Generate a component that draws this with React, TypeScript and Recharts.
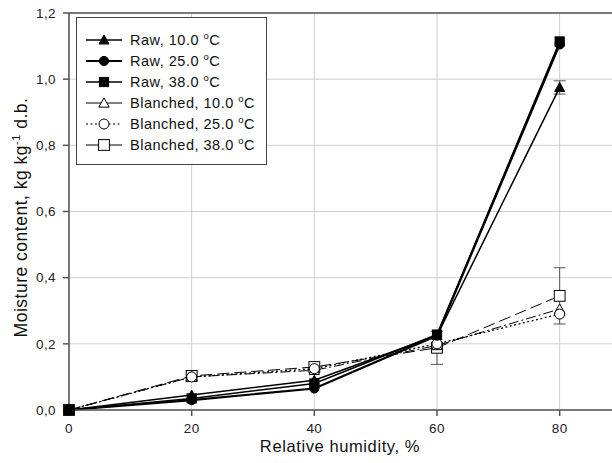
import React from 'react';
import { LineChart, Line, XAxis, YAxis, CartesianGrid, ErrorBar, Legend, Label, ReferenceLine } from 'recharts';

const humidity = [0, 20, 40, 60, 80];
const raw10 = [0, 0.045, 0.09, 0.225, 0.975];
const raw25 = [0, 0.03, 0.065, 0.225, 1.105];
const raw38 = [0, 0.035, 0.08, 0.228, 1.114];
const bl10 = [0, 0.1, 0.12, 0.195, 0.305];
const bl25 = [0, 0.1, 0.125, 0.2, 0.29];
const bl38 = [0, 0.103, 0.13, 0.188, 0.345];
const raw10Err = [null, null, null, null, 0.02];
const bl38Err = [null, 0.015, null, 0.05, 0.085];
const xTicks = [0, 20, 40, 60, 80];
const yTicks = [0, 0.2, 0.4, 0.6, 0.8, 1.0, 1.2];

const data = humidity.map((h, i) => ({
  h,
  raw10: raw10[i],
  raw25: raw25[i],
  raw38: raw38[i],
  bl10: bl10[i],
  bl25: bl25[i],
  bl38: bl38[i],
  raw10Err: raw10Err[i],
  bl38Err: bl38Err[i],
}));

const FONT = '"Liberation Sans", Arial, sans-serif';

type Shape = 'triangle' | 'circle' | 'square';

function marker(shape: Shape, filled: boolean, cx: number, cy: number, key?: any) {
  const fill = filled ? '#000' : '#fff';
  const stroke = '#000';
  if (shape === 'triangle') {
    const s = filled ? 5 : 5.2;
    return (
      <polygon key={key} points={`${cx},${cy - s} ${cx - s},${cy + s * 0.8} ${cx + s},${cy + s * 0.8}`}
        fill={fill} stroke={stroke} strokeWidth={1} />
    );
  }
  if (shape === 'circle') {
    return <circle key={key} cx={cx} cy={cy} r={filled ? 4.6 : 5} fill={fill} stroke={stroke} strokeWidth={1} />;
  }
  const s = filled ? 4.6 : 5.4;
  return <rect key={key} x={cx - s} y={cy - s} width={s * 2} height={s * 2} fill={fill} stroke={stroke} strokeWidth={1} />;
}

const makeDot = (shape: Shape, filled: boolean) => (props: any) => {
  const { cx, cy, index } = props;
  if (cx == null || cy == null) return <g key={index} />;
  return marker(shape, filled, cx, cy, index);
};

const legendItems = [
  { name: 'Raw, 10.0 ', shape: 'triangle' as Shape, filled: true, width: 1.5, dash: undefined as string | undefined },
  { name: 'Raw, 25.0 ', shape: 'circle' as Shape, filled: true, width: 2.2, dash: undefined },
  { name: 'Raw, 38.0 ', shape: 'square' as Shape, filled: true, width: 1.5, dash: undefined },
  { name: 'Blanched, 10.0 ', shape: 'triangle' as Shape, filled: false, width: 1, dash: undefined },
  { name: 'Blanched, 25.0 ', shape: 'circle' as Shape, filled: false, width: 1.2, dash: '2 2.5' },
  { name: 'Blanched, 38.0 ', shape: 'square' as Shape, filled: false, width: 1, dash: undefined },
];

const renderLegend = () => (
  <div style={{ width: 191, height: 148, border: '1.5px solid #444', boxSizing: 'border-box', background: '#fff' }}>
    <svg width={188} height={145} style={{ display: 'block' }}>
      {legendItems.map((it, i) => {
        const y = 22 + i * 21;
        return (
          <g key={it.name}>
            <line x1={9} x2={45} y1={y} y2={y} stroke="#000" strokeWidth={it.width} strokeDasharray={it.dash} />
            {marker(it.shape, it.filled, 27, y)}
            <text x={53} y={y + 5} fontFamily={FONT} fontSize={14.5} letterSpacing={0.5} fill="#111">
              {it.name}
              <tspan fontSize={9.5} dy={-6}>o</tspan>
              <tspan dy={6}>C</tspan>
            </text>
          </g>
        );
      })}
    </svg>
  </div>
);

const fmt = (v: number) => v.toFixed(1).replace('.', ',');

export default function App() {
  return (
    <div style={{ position: 'absolute', left: 0, top: 0, width: 612, height: 463, overflow: 'hidden', background: '#fff' }}>
      <LineChart width={621} height={463} data={data} margin={{ top: 13, right: 0, bottom: 0, left: 0 }}>
        <CartesianGrid stroke="#cfcfcf" strokeWidth={1} />
        <ReferenceLine y={1.2} stroke="#555" strokeWidth={1.5} />
        <XAxis
          dataKey="h"
          type="number"
          domain={[0, 90]}
          ticks={xTicks}
          height={53}
          tickSize={6}
          tickMargin={7}
          axisLine={{ stroke: '#555', strokeWidth: 1.5 }}
          tickLine={{ stroke: '#555', strokeWidth: 1.5 }}
          tick={{ fill: '#222', fontSize: 13.5, fontFamily: FONT, letterSpacing: 0.4 }}
        >
          <Label
            content={(p: any) => {
              const vb = p.viewBox;
              return (
                <text x={vb.x + vb.width / 2 - 5} y={vb.y + 42} textAnchor="middle" fontFamily={FONT} fontSize={16.5} letterSpacing={0.6} fill="#111">
                  Relative humidity, %
                </text>
              );
            }}
          />
        </XAxis>
        <YAxis
          type="number"
          domain={[0, 1.2]}
          ticks={yTicks}
          width={69}
          tickSize={6}
          tickMargin={7}
          tickFormatter={fmt}
          axisLine={{ stroke: '#555', strokeWidth: 1.5 }}
          tickLine={{ stroke: '#555', strokeWidth: 1.5 }}
          tick={{ fill: '#222', fontSize: 13.5, fontFamily: FONT, letterSpacing: 0.4 }}
        >
          <Label
            content={(p: any) => {
              const vb = p.viewBox;
              const cx = 27;
              const cy = vb.y + vb.height / 2 + 6;
              return (
                <text x={cx} y={cy} transform={`rotate(-90, ${cx}, ${cy})`} textAnchor="middle" fontFamily={FONT} fontSize={17.5} letterSpacing={0.5} fill="#111">
                  Moisture content, kg kg
                  <tspan fontSize={11} dy={-7}>-1</tspan>
                  <tspan dy={7}> d.b.</tspan>
                </text>
              );
            }}
          />
        </YAxis>
        <Legend content={renderLegend} layout="vertical" align="center" verticalAlign="middle" wrapperStyle={{ left: 76, top: 17, width: 191, height: 148 }} />
        <Line dataKey="bl38" stroke="#000" strokeWidth={1} strokeDasharray="12 5" dot={makeDot('square', false)} isAnimationActive={false}>
          <ErrorBar dataKey="bl38Err" width={6} stroke="#555" strokeWidth={1} direction="y" />
        </Line>
        <Line dataKey="bl10" stroke="#000" strokeWidth={1} strokeDasharray="10 3 2 3" dot={makeDot('triangle', false)} isAnimationActive={false} />
        <Line dataKey="bl25" stroke="#000" strokeWidth={1.3} strokeDasharray="2 2.5" dot={makeDot('circle', false)} isAnimationActive={false} />
        <Line dataKey="raw10" stroke="#000" strokeWidth={1.5} dot={makeDot('triangle', true)} isAnimationActive={false}>
          <ErrorBar dataKey="raw10Err" width={6} stroke="#555" strokeWidth={1} direction="y" />
        </Line>
        <Line dataKey="raw25" stroke="#000" strokeWidth={2.2} dot={makeDot('circle', true)} isAnimationActive={false} />
        <Line dataKey="raw38" stroke="#000" strokeWidth={1.5} dot={makeDot('square', true)} isAnimationActive={false} />
      </LineChart>
    </div>
  );
}
